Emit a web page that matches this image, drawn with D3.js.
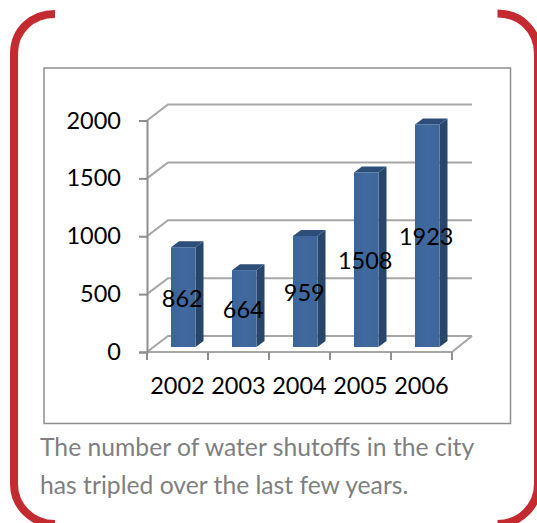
<!DOCTYPE html>
<html>
<head>
<meta charset="utf-8">
<script src="https://cdn.jsdelivr.net/npm/d3@7"></script>
<style>
  html, body { margin: 0; padding: 0; background: #fff; overflow: hidden; }
  svg { display: block; }
  text { font-family: Lato, "Open Sans", sans-serif; }
</style>
</head>
<body>
<div id="chart"></div>
<script>
const years = ["2002", "2003", "2004", "2005", "2006"];
const shutoffs = [862, 664, 959, 1508, 1923];
const yTicks = [0, 500, 1000, 1500, 2000];
const captionLines = [
  "The number of water shutoffs in the city",
  "has tripled over the last few years."
];

const width = 537, height = 523;
const red = "#c42b30", gridColor = "#a6a6a6", axisColor = "#8e8e8e";
const depthX = 21, depthY = 16; // back wall offset
const barW = 24.5, barDepthX = 8, barDepthY = 6;

const svg = d3.select("#chart").append("svg")
  .attr("width", width)
  .attr("height", height);

// rounded brackets
const bracket = svg.append("g")
  .attr("fill", "none")
  .attr("stroke", red)
  .attr("stroke-width", 8);
bracket.append("path").attr("d", "M55,14 C32,14 14,30 14,54 V484 C14,506 32,524 55,524");
bracket.append("path").attr("d", "M497.5,13.5 C520,13.5 538,30 538,54 V484 C538,506 520,524 497.5,524");

// chart frame
svg.append("rect")
  .attr("x", 44).attr("y", 68)
  .attr("width", 466.5).attr("height", 355.5)
  .attr("fill", "#fff")
  .attr("stroke", "#8f8f8f")
  .attr("stroke-width", 1.5);

const x = d3.scaleBand().domain(years).range([147, 452]);
const y = d3.scaleLinear().domain([0, 2000]).range([352, 120.5]);

// gridlines on the back wall + the side wall diagonals
const grid = svg.append("g")
  .attr("fill", "none")
  .attr("stroke", gridColor)
  .attr("stroke-width", 2);
yTicks.forEach((t) => {
  grid.append("path")
    .attr("d", `M147,${y(t)} L${147 + depthX},${y(t) - depthY} H472`);
});
grid.append("path")
  .attr("d", `M147,${y(0)} H${x.range()[1]} L472,${y(0) - depthY}`);

// y axis
const yAxis = d3.axisLeft(y).tickValues(yTicks).tickFormat(d3.format("d")).tickSize(8).tickPadding(18);
const yG = svg.append("g")
  .attr("transform", "translate(147,0)")
  .call(yAxis);
yG.select(".domain").attr("stroke", axisColor).attr("stroke-width", 2);
yG.selectAll(".tick line").attr("stroke", axisColor).attr("stroke-width", 2);
yG.selectAll(".tick text")
  .attr("fill", "#000")
  .style("font-size", "23.5px");

// x axis, ticks sit between the categories
const xAxis = d3.axisBottom(x).tickSize(0).tickPadding(25);
const xG = svg.append("g")
  .attr("transform", `translate(0,${y(0)})`)
  .call(xAxis);
xG.select(".domain").remove();
xG.selectAll(".tick text")
  .attr("fill", "#000")
  .style("font-size", "23.5px");
xG.selectAll("line.sep")
  .data(years.concat("end"))
  .join("line")
  .attr("class", "sep")
  .attr("x1", (d) => (d === "end" ? x.range()[1] : x(d)))
  .attr("x2", (d) => (d === "end" ? x.range()[1] : x(d)))
  .attr("y1", 0)
  .attr("y2", 8)
  .attr("stroke", axisColor)
  .attr("stroke-width", 2);

// 3d bars
const barBase = y(0) - 5;
const barH = (v) => y(0) - y(v);
const barX = (d) => x(d) + 24;
const grad = svg.append("defs").append("linearGradient").attr("id", "barFront");
grad.append("stop").attr("offset", "0").attr("stop-color", "#3a659a");
grad.append("stop").attr("offset", "0.5").attr("stop-color", "#41699f");
grad.append("stop").attr("offset", "1").attr("stop-color", "#3d6699");

const bars = svg.append("g").selectAll("g")
  .data(years.map((d, i) => ({ year: d, value: shutoffs[i] })))
  .join("g");
// side
bars.append("path")
  .attr("fill", "#274669")
  .attr("d", (d) => {
    const l = barX(d.year) + barW, t = barBase - barH(d.value);
    return `M${l},${t} l${barDepthX},${-barDepthY} V${barBase - barDepthY} L${l},${barBase} Z`;
  });
// top
bars.append("path")
  .attr("fill", "#2c4e79")
  .attr("d", (d) => {
    const l = barX(d.year), t = barBase - barH(d.value);
    return `M${l},${t} l${barDepthX},${-barDepthY} h${barW} l${-barDepthX},${barDepthY} Z`;
  });
bars.append("rect")
  .attr("x", (d) => barX(d.year))
  .attr("y", (d) => barBase - barH(d.value))
  .attr("width", barW)
  .attr("height", (d) => barH(d.value))
  .attr("fill", "url(#barFront)");

// value labels, halfway up each bar
bars.append("text")
  .attr("x", (d) => barX(d.year) + barW / 2 - 1)
  .attr("y", (d) => barBase - barH(d.value) / 2 + 1)
  .attr("dy", "0.36em")
  .attr("text-anchor", "middle")
  .attr("fill", "#000")
  .style("font-size", "23.5px")
  .text((d) => d.value);

// caption
svg.append("g").selectAll("text")
  .data(captionLines)
  .join("text")
  .attr("x", 40)
  .attr("y", (d, i) => 456 + i * 38)
  .attr("fill", "#7f7f7f")
  .style("font-size", "24.7px")
  .text((d) => d);
</script>
</body>
</html>
